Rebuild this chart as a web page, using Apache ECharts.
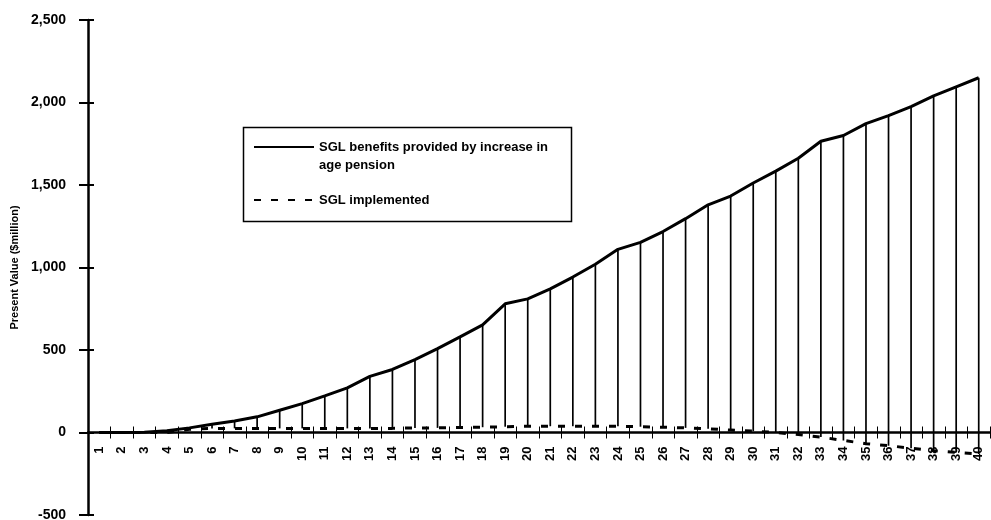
<!DOCTYPE html>
<html>
<head>
<meta charset="utf-8">
<script src="https://cdn.jsdelivr.net/npm/echarts@6/dist/echarts.min.js"></script>
<style>
html,body{margin:0;padding:0;background:#fff;}
#chart{width:991px;height:520px;}
</style>
</head>
<body>
<div id="chart"></div>
<script>
const categories = ['1','2','3','4','5','6','7','8','9','10','11','12','13','14','15','16','17','18','19','20',
  '21','22','23','24','25','26','27','28','29','30','31','32','33','34','35','36','37','38','39','40'];
const benefitsAgePension = [0,0,2,10,28,50,70,95,135,175,222,270,340,382,442,508,580,652,780,810,
  870,942,1020,1110,1152,1218,1296,1380,1433,1512,1584,1662,1765,1800,1872,1920,1975,2040,2095,2150];
const sglImplemented = [0,0,0,0,20,25,25,25,25,25,25,25,25,25,28,28,30,32,35,38,
  38,38,38,38,35,32,28,22,15,8,0,-12,-28,-48,-68,-80,-95,-110,-120,-130];
const yTicks = [-500,0,500,1000,1500,2000,2500];
const seriesNames = ['SGL benefits provided by increase in age pension','SGL implemented'];
const yAxisName = 'Present Value ($million)';

const FONT = 'Liberation Sans';
const chart = echarts.init(document.getElementById('chart'));
const fmt = v => (v < 0 ? '-' : '') + Math.abs(v).toString().replace(/\B(?=(\d{3})+(?!\d))/g, ',');

const yBase = {
  type: 'value', min: yTicks[0], max: yTicks[yTicks.length - 1], interval: 500,
  splitLine: { show: false }
};

chart.setOption({
  animation: false,
  backgroundColor: '#fff',
  grid: { left: 88, right: 1, top: 20, bottom: 5, containLabel: false, outerBoundsMode: 'none' },
  legend: {
    data: seriesNames,
    orient: 'vertical',
    left: 253, top: 120,
    padding: 0,
    itemWidth: 60, itemHeight: 14, itemGap: 17,
    itemStyle: { color: 'rgba(0,0,0,0)', borderWidth: 0, opacity: 0 },
    textStyle: { fontFamily: FONT, fontSize: 13, fontWeight: 'bold', color: '#000', lineHeight: 18 },
    formatter: n => n === seriesNames[0] ? '\nSGL benefits provided by increase in\nage pension' : n
  },
  graphic: [{
    type: 'rect', left: 241, top: 125, z: 100,
    shape: { width: 328, height: 94 },
    style: { fill: 'none', stroke: '#000', lineWidth: 1.5 }
  }],
  xAxis: [{
    type: 'category', data: categories, boundaryGap: true,
    axisLine: { onZero: false, lineStyle: { color: '#000', width: 2.5 } },
    axisTick: { show: true, length: 6, lineStyle: { color: '#000', width: 1 } },
    axisLabel: { rotate: 90, margin: 14, interval: 0, fontFamily: FONT, fontSize: 13, fontWeight: 'bold', color: '#000' }
  }, {
    type: 'category', data: categories, boundaryGap: true, position: 'bottom',
    axisLine: { show: false, onZero: false },
    axisTick: { show: true, inside: true, length: 6, lineStyle: { color: '#000', width: 1 } },
    axisLabel: { show: false }
  }],
  yAxis: [Object.assign({}, yBase, {
    name: yAxisName, nameLocation: 'middle', nameGap: 61, nameRotate: 90,
    nameTextStyle: { fontFamily: FONT, fontSize: 11, fontWeight: 'bold', color: '#000' },
    axisLine: { show: true, lineStyle: { color: '#000', width: 2.5 } },
    axisTick: { show: true, length: 9, lineStyle: { color: '#000', width: 2 } },
    axisLabel: { margin: 22, formatter: fmt, fontFamily: FONT, fontSize: 14, fontWeight: 'bold', color: '#000' }
  }), Object.assign({}, yBase, {
    position: 'left',
    axisLine: { show: false },
    axisTick: { show: true, inside: true, length: 6, lineStyle: { color: '#000', width: 2 } },
    axisLabel: { show: false }
  })],
  series: [{
    name: 'high-low',
    type: 'custom',
    silent: true,
    encode: { x: 0, y: [1, 2] },
    data: categories.map((c, i) => [i, benefitsAgePension[i], sglImplemented[i]]),
    renderItem: function (params, api) {
      const i = api.value(0);
      const hi = api.coord([i, api.value(1)]);
      const lo = api.coord([i, api.value(2)]);
      return { type: 'line', shape: { x1: hi[0], y1: hi[1], x2: lo[0], y2: lo[1] },
        style: { stroke: '#000', lineWidth: 1.7 } };
    },
    z: 1
  }, {
    name: seriesNames[0],
    type: 'line',
    data: benefitsAgePension,
    symbol: 'none',
    lineStyle: { color: '#000', width: 3 },
    itemStyle: { color: '#000' },
    z: 3
  }, {
    name: seriesNames[1],
    type: 'line',
    data: sglImplemented,
    symbol: 'none',
    lineStyle: { color: '#000', width: 3, type: [7, 10] },
    itemStyle: { color: '#000' },
    z: 3
  }]
});

// place the category axis on the zero line of the value axis
const zeroY = chart.convertToPixel({ yAxisIndex: 0 }, 0);
const bottomY = chart.convertToPixel({ yAxisIndex: 0 }, yTicks[0]);
const off = -(bottomY - zeroY);
chart.setOption({ xAxis: [{ offset: off }, { offset: off }] });
</script>
</body>
</html>
